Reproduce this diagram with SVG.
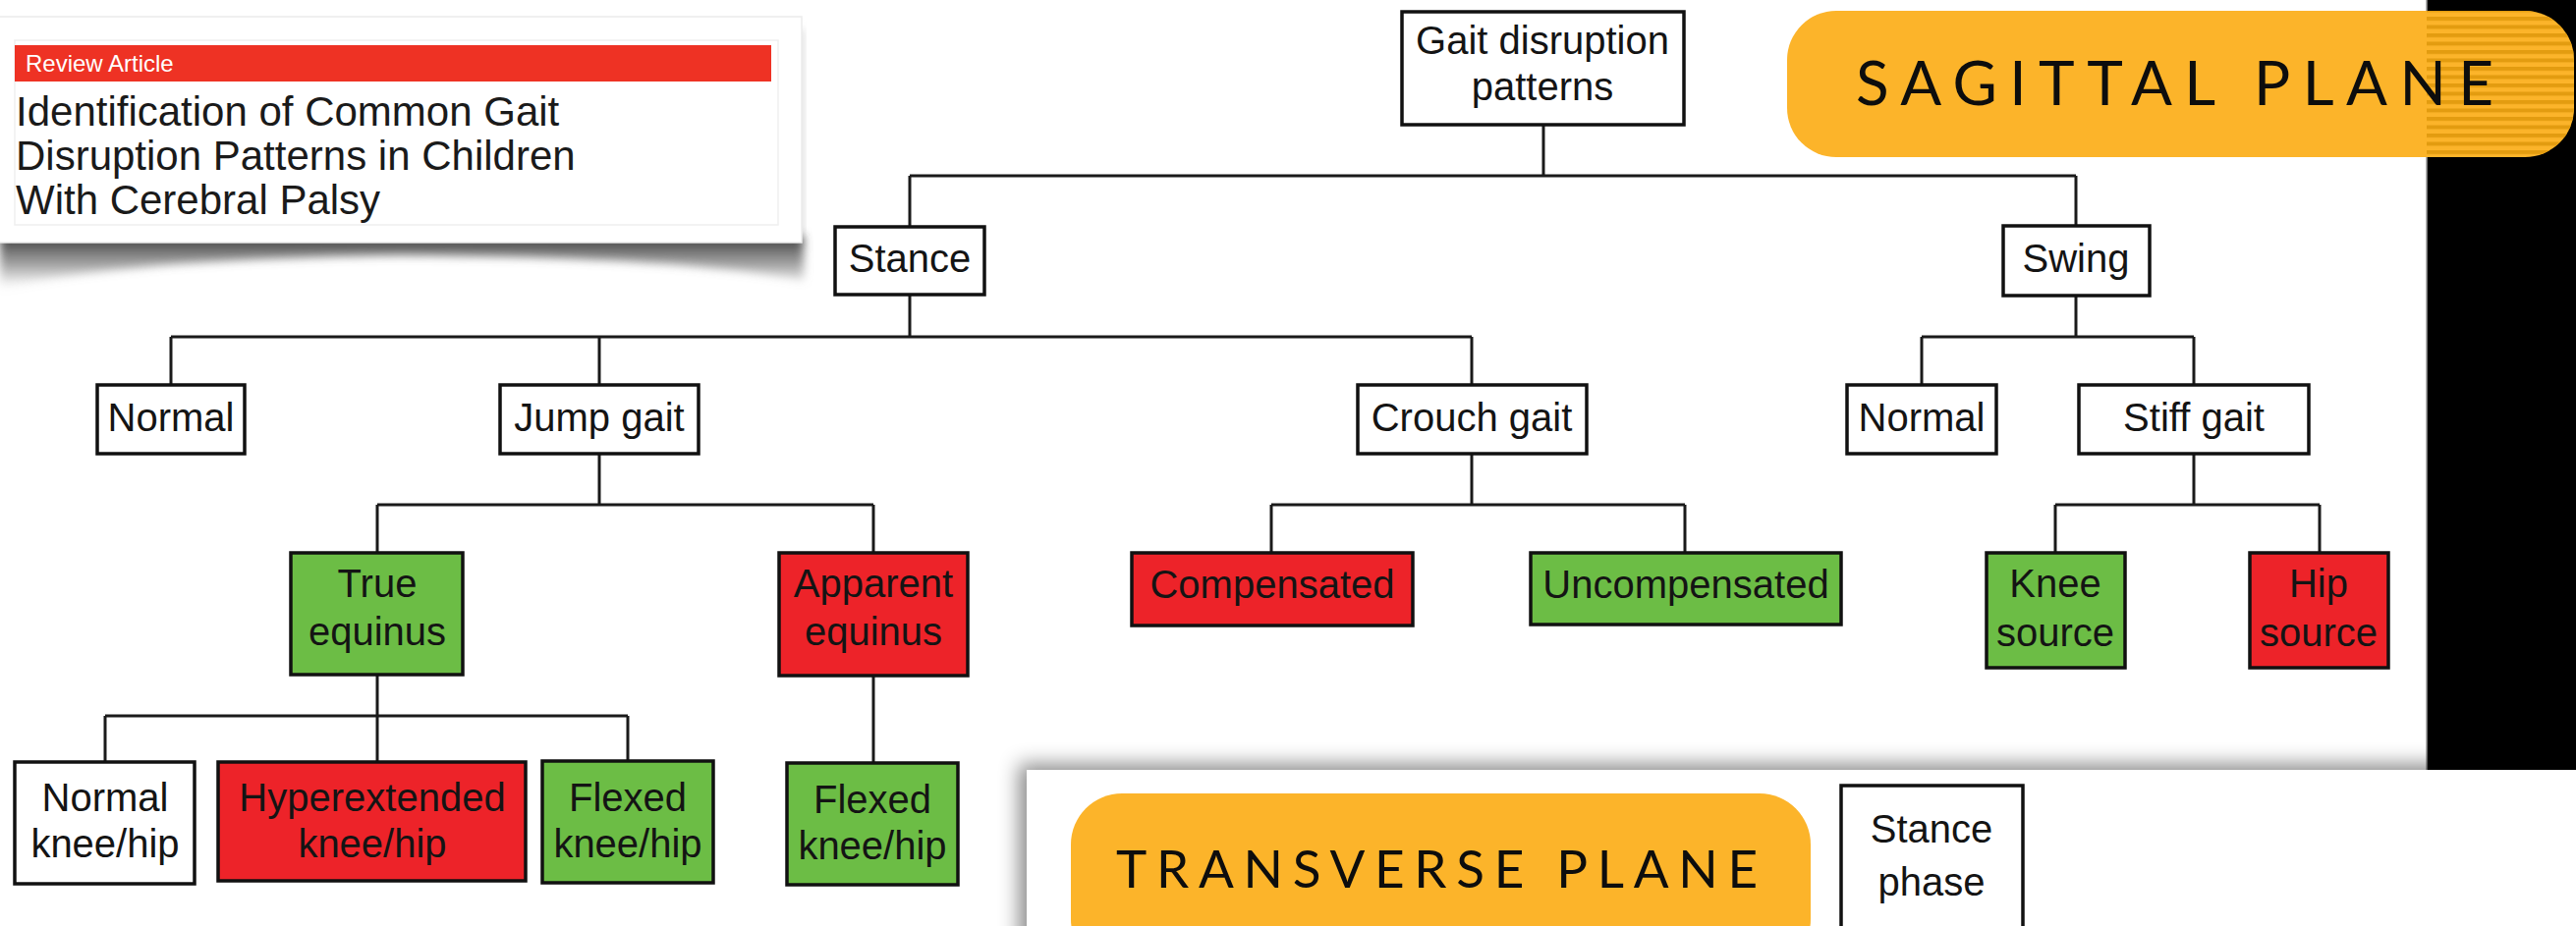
<svg xmlns="http://www.w3.org/2000/svg" width="2622" height="943" viewBox="0 0 2622 943">
  <style>
    .box { stroke: #111; stroke-width: 3.5; }
    .w { fill: #ffffff; }
    .g { fill: #6cbd45; }
    .r { fill: #ed2329; }
    .lbl { font-family: "Liberation Sans", Arial, sans-serif; font-size: 40px; fill: #141414; text-anchor: middle; }
    .conn { stroke: #1a1a1a; stroke-width: 3; fill: none; }
    .title { font-family: "Liberation Sans", Arial, sans-serif; font-size: 42px; fill: #1a1a1a; }
    .plane { font-family: Lato, "Open Sans", sans-serif; fill: #0d0d0d; }
    .pill { fill: #fcb42a; }
  </style>
  <defs>
    <filter id="softShadow" x="-20%" y="-80%" width="140%" height="260%">
      <feGaussianBlur stdDeviation="5"/>
    </filter>
    <filter id="panelShadow" x="-10%" y="-30%" width="120%" height="160%">
      <feDropShadow dx="-8" dy="-6" stdDeviation="10" flood-color="#000" flood-opacity="0.45"/>
    </filter>
    <linearGradient id="curlShade" x1="0" y1="0" x2="0" y2="1">
      <stop offset="0" stop-color="#333" stop-opacity="1"/>
      <stop offset="0.6" stop-color="#777" stop-opacity="0.6"/>
      <stop offset="1" stop-color="#aaa" stop-opacity="0"/>
    </linearGradient>
    <pattern id="stripes" width="20" height="8.5" patternUnits="userSpaceOnUse">
      <rect x="0" y="0" width="20" height="4" fill="#e39c10"/>
    </pattern>
    <clipPath id="sagClip">
      <rect x="1819" y="11" width="801" height="149" rx="50" ry="50"/>
    </clipPath>
  </defs>

  <!-- background -->
  <rect x="0" y="0" width="2622" height="943" fill="#ffffff"/>

  <!-- dark strip at the right edge -->
  <rect x="2470" y="0" width="152" height="784" fill="#000000"/>
  <line x1="2470" y1="0" x2="2470" y2="784" stroke="#9a9a9a" stroke-width="1.5"/>

  <!-- article header card with curled shadow -->
  <g id="article-card">
    <path d="M0 240 L818 240 L818 286 Q700 262 408 260 Q120 264 0 294 Z" fill="url(#curlShade)" filter="url(#softShadow)"/>
    <rect x="806" y="30" width="12" height="212" fill="#bbb" opacity="0.5" filter="url(#softShadow)"/>
    <rect x="-2" y="17" width="818" height="230" fill="#ffffff" stroke="#ececec" stroke-width="1.5"/>
    <rect x="15" y="41" width="777" height="188" fill="none" stroke="#efefef" stroke-width="1.5"/>
    <rect x="15" y="46" width="770" height="37" fill="#ee3224"/>
    <text x="26" y="73" font-family="'Liberation Sans', Arial, sans-serif" font-size="24" fill="#ffffff">Review Article</text>
    <text class="title" x="16" y="128">Identification of Common Gait</text>
    <text class="title" x="16" y="173">Disruption Patterns in Children</text>
    <text class="title" x="16" y="218">With Cerebral Palsy</text>
  </g>

  <!-- sagittal plane banner -->
  <g id="sagittal-banner">
    <rect class="pill" x="1819" y="11" width="801" height="149" rx="50" ry="50"/>
    <rect x="2470" y="11" width="152" height="149" fill="url(#stripes)" clip-path="url(#sagClip)"/>
    <text class="plane" x="1889" y="107" font-size="62" textLength="649" lengthAdjust="spacing">SAGITTAL PLANE</text>
  </g>

  <!-- connectors -->
  <g id="connectors">
    <path class="conn" d="M1571 127 V179 M926 179 H2113 M926 179 V231 M2113 179 V230"/>
    <path class="conn" d="M926 300 V343 M174 343 H1498 M174 343 V392 M610 343 V392 M1498 343 V392"/>
    <path class="conn" d="M2113 301 V343 M1956 343 H2233 M1956 343 V392 M2233 343 V392"/>
    <path class="conn" d="M610 462 V514 M384 514 H889 M384 514 V563 M889 514 V563"/>
    <path class="conn" d="M1498 462 V514 M1294 514 H1715 M1294 514 V563 M1715 514 V563"/>
    <path class="conn" d="M2233 462 V514 M2092 514 H2361 M2092 514 V563 M2361 514 V563"/>
    <path class="conn" d="M384 687 V776 M107 729 H639 M107 729 V776 M639 729 V775"/>
    <path class="conn" d="M889 688 V777"/>
  </g>

  <!-- nodes -->
  <g id="node-root">
    <rect class="box w" x="1427" y="12" width="287" height="115"/>
    <text class="lbl" x="1570" y="55">Gait disruption</text>
    <text class="lbl" x="1570" y="102">patterns</text>
  </g>
  <g id="node-stance">
    <rect class="box w" x="850" y="231" width="152" height="69"/>
    <text class="lbl" x="926" y="277">Stance</text>
  </g>
  <g id="node-swing">
    <rect class="box w" x="2039" y="230" width="149" height="71"/>
    <text class="lbl" x="2113" y="277">Swing</text>
  </g>
  <g id="node-stance-normal">
    <rect class="box w" x="99" y="392" width="150" height="70"/>
    <text class="lbl" x="174" y="439">Normal</text>
  </g>
  <g id="node-jump">
    <rect class="box w" x="509" y="392" width="202" height="70"/>
    <text class="lbl" x="610" y="439">Jump gait</text>
  </g>
  <g id="node-crouch">
    <rect class="box w" x="1382" y="392" width="233" height="70"/>
    <text class="lbl" x="1498" y="439">Crouch gait</text>
  </g>
  <g id="node-swing-normal">
    <rect class="box w" x="1880" y="392" width="152" height="70"/>
    <text class="lbl" x="1956" y="439">Normal</text>
  </g>
  <g id="node-stiff">
    <rect class="box w" x="2116" y="392" width="234" height="70"/>
    <text class="lbl" x="2233" y="439">Stiff gait</text>
  </g>
  <g id="node-true-equinus">
    <rect class="box g" x="296" y="563" width="175" height="124"/>
    <text class="lbl" x="384" y="608">True</text>
    <text class="lbl" x="384" y="657">equinus</text>
  </g>
  <g id="node-apparent-equinus">
    <rect class="box r" x="793" y="563" width="192" height="125"/>
    <text class="lbl" x="889" y="608">Apparent</text>
    <text class="lbl" x="889" y="657">equinus</text>
  </g>
  <g id="node-compensated">
    <rect class="box r" x="1152" y="563" width="286" height="74"/>
    <text class="lbl" x="1295" y="609">Compensated</text>
  </g>
  <g id="node-uncompensated">
    <rect class="box g" x="1558" y="563" width="316" height="73"/>
    <text class="lbl" x="1716" y="609">Uncompensated</text>
  </g>
  <g id="node-knee-source">
    <rect class="box g" x="2022" y="563" width="141" height="117"/>
    <text class="lbl" x="2092" y="608">Knee</text>
    <text class="lbl" x="2092" y="658">source</text>
  </g>
  <g id="node-hip-source">
    <rect class="box r" x="2290" y="563" width="141" height="117"/>
    <text class="lbl" x="2360" y="608">Hip</text>
    <text class="lbl" x="2360" y="658">source</text>
  </g>
  <g id="node-normal-knee-hip">
    <rect class="box w" x="15" y="776" width="183" height="124"/>
    <text class="lbl" x="107" y="826">Normal</text>
    <text class="lbl" x="107" y="873">knee/hip</text>
  </g>
  <g id="node-hyperextended">
    <rect class="box r" x="222" y="776" width="313" height="121"/>
    <text class="lbl" x="379" y="826">Hyperextended</text>
    <text class="lbl" x="379" y="873">knee/hip</text>
  </g>
  <g id="node-flexed-true">
    <rect class="box g" x="552" y="775" width="174" height="124"/>
    <text class="lbl" x="639" y="826">Flexed</text>
    <text class="lbl" x="639" y="873">knee/hip</text>
  </g>
  <g id="node-flexed-apparent">
    <rect class="box g" x="801" y="777" width="174" height="124"/>
    <text class="lbl" x="888" y="828">Flexed</text>
    <text class="lbl" x="888" y="875">knee/hip</text>
  </g>

  <!-- transverse plane panel -->
  <g id="transverse-panel">
    <rect x="1045" y="784" width="1600" height="200" fill="#ffffff" filter="url(#panelShadow)"/>
    <rect class="pill" x="1090" y="808" width="753" height="180" rx="52" ry="52"/>
    <text class="plane" x="1136" y="904" font-size="53" textLength="653" lengthAdjust="spacing">TRANSVERSE PLANE</text>
  </g>
  <g id="node-stance-phase">
    <rect class="box w" x="1874" y="800" width="185" height="160"/>
    <text class="lbl" x="1966" y="858">Stance</text>
    <text class="lbl" x="1966" y="912">phase</text>
  </g>
</svg>
